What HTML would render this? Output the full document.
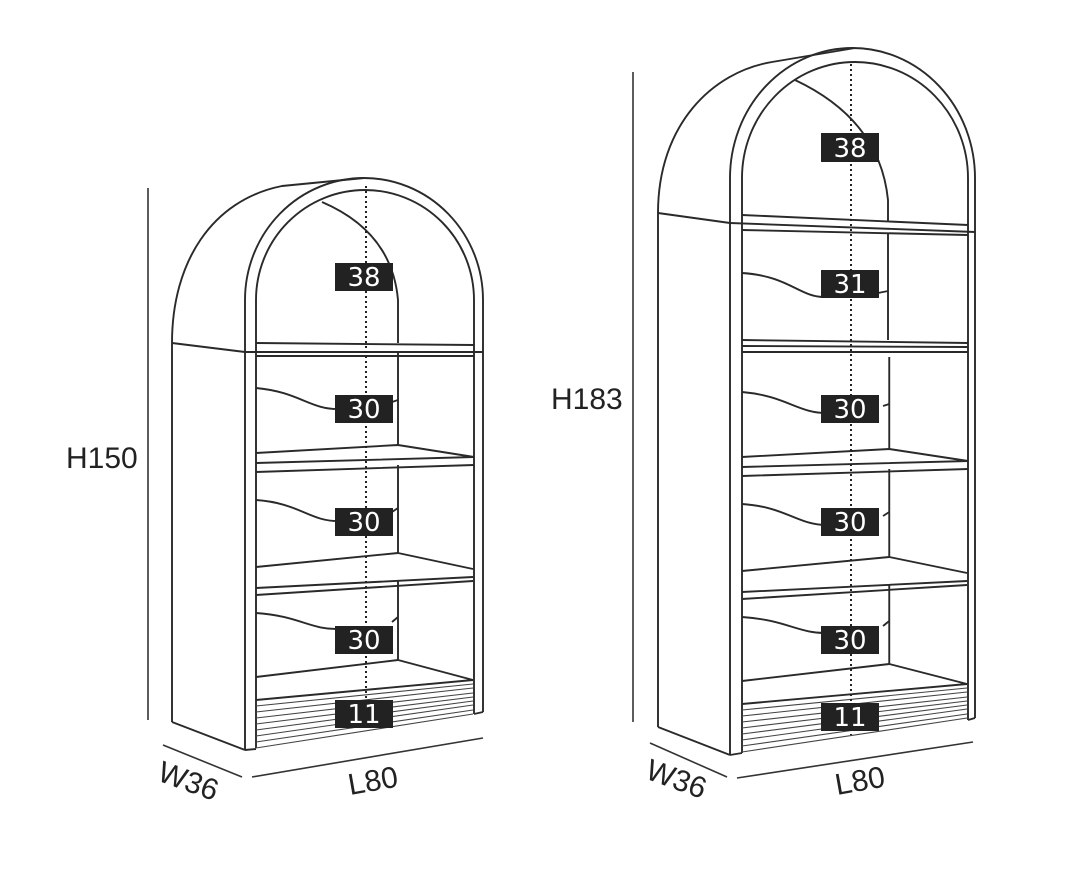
<!DOCTYPE html>
<html><head><meta charset="utf-8"><style>
html,body{margin:0;padding:0;background:#fff;}
svg{display:block;}
.l{fill:none;stroke:#2a2a2a;stroke-width:1.9;stroke-linejoin:round;vector-effect:non-scaling-stroke;}
.h{fill:none;stroke:#444;stroke-width:1.1;vector-effect:non-scaling-stroke;}
.d{fill:none;stroke:#222;stroke-width:2;stroke-dasharray:2 3;}
.dim{fill:none;stroke:#333;stroke-width:1.6;}
.lab{font-family:"DejaVu Sans","Liberation Sans",sans-serif;font-size:26px;fill:#fff;text-anchor:middle;}
.t{font-family:"Liberation Sans",sans-serif;font-size:30px;fill:#222;}
</style></head><body>
<svg width="1080" height="877" viewBox="0 0 1080 877" xmlns="http://www.w3.org/2000/svg">
<defs>
<g id="inner">
  <path class="l" d="M256,453 L398,445 L474,457 M256,463 L474,457 M256,472 L474,465"/>
  <path class="l" d="M256,567 L398,553 L473,569 M256,588 L473,577 M256,595 L473,581"/>
  <path class="l" d="M256,677 L398,660 L473,680 M256,700 L473,680"/>
  <path class="h" d="M256,706 L473,684 M256,712 L473,688 M256,718 L473,693 M256,724 L473,697 M256,730 L473,701 M256,736 L473,705 M256,742 L473,710 M256,748 L473,714"/>
  <path class="l" d="M398,353 L398,445 M398,465 L398,553 M398,581 L398,660"/>
  <path class="l" d="M256,388 C300,392 310,410 340,409 M392,402 L398,400"/>
  <path class="l" d="M256,500 C300,503 310,522 340,521 M392,512 L398,508"/>
  <path class="l" d="M256,613 C300,616 310,630 340,629 M392,622 L398,617"/>
</g>
</defs>

<path class="l" d="M172,722 L172,343 C172,262 212,200 282,186 L364,178"/>
<path class="l" d="M172,343 L245,352 M172,722 L245,750"/>
<path class="l" d="M245,750 L245,300 A119,122 0 0 1 483,300 L483,712"/>
<path class="l" d="M256,748 L256,300 A109,110 0 0 1 474,300 L474,714"/>
<path class="l" d="M245,750 L256,749 M474,714 L483,712"/>
<path class="l" d="M256,343 L474,345 M245,352 L483,352 M256,356 L474,356"/>
<path class="l" d="M322,202 Q392,232 398,300 L398,343"/>
<use href="#inner"/>
<line class="d" x1="366" y1="186" x2="366" y2="730"/>
<rect x="335" y="263" width="58" height="28" fill="#222"/><text class="lab" x="364" y="286">38</text>
<rect x="335" y="395" width="58" height="28" fill="#222"/><text class="lab" x="364" y="418">30</text>
<rect x="335" y="508" width="58" height="28" fill="#222"/><text class="lab" x="364" y="531">30</text>
<rect x="335" y="626" width="58" height="28" fill="#222"/><text class="lab" x="364" y="649">30</text>
<rect x="335" y="700" width="58" height="28" fill="#222"/><text class="lab" x="364" y="723">11</text>
<line class="dim" x1="148" y1="188" x2="148" y2="720"/>
<text class="t" x="66" y="468">H150</text>
<line class="dim" x1="163" y1="745" x2="242" y2="777"/>
<line class="dim" x1="252" y1="777" x2="483" y2="738"/>
<text class="t" transform="translate(156,780) rotate(20)">W36</text>
<text class="t" transform="translate(350,795) rotate(-10)">L80</text>

<path class="l" d="M658,727 L658,213 C658,125 712,72 772,62 L855,48"/>
<path class="l" d="M658,213 L730,223 M658,727 L730,755"/>
<path class="l" d="M730,755 L730,178 A122.5,130 0 0 1 975,178 L975,718"/>
<path class="l" d="M742,753 L742,178 A113,116 0 0 1 968,178 L968,720"/>
<path class="l" d="M730,755 L742,753 M968,720 L975,718"/>
<path class="l" d="M742,215 L968,225 M730,223 L975,232 M742,230 L968,235"/>
<path class="l" d="M795,80 Q880,120 888,200 L888,222"/>
<path class="l" d="M742,340 L968,343 M742,346 L968,347 M742,352 L968,352"/>
<path class="l" d="M888,234 L888,340 M742,273 C790,276 800,298 826,297 M878,293 L888,291"/>
<g transform="translate(742,4) scale(1.037,1) translate(-256,0)"><use href="#inner"/></g>
<line class="d" x1="851" y1="64" x2="851" y2="735"/>
<rect x="821" y="133" width="58" height="29" fill="#222"/><text class="lab" x="850" y="157">38</text>
<rect x="821" y="270" width="58" height="28" fill="#222"/><text class="lab" x="850" y="293">31</text>
<rect x="821" y="395" width="58" height="28" fill="#222"/><text class="lab" x="850" y="418">30</text>
<rect x="821" y="508" width="58" height="28" fill="#222"/><text class="lab" x="850" y="531">30</text>
<rect x="821" y="626" width="58" height="28" fill="#222"/><text class="lab" x="850" y="649">30</text>
<rect x="821" y="703" width="58" height="28" fill="#222"/><text class="lab" x="850" y="726">11</text>
<line class="dim" x1="633" y1="72" x2="633" y2="722"/>
<text class="t" x="551" y="409">H183</text>
<line class="dim" x1="650" y1="743" x2="727" y2="777"/>
<line class="dim" x1="737" y1="778" x2="973" y2="742"/>
<text class="t" transform="translate(644,778) rotate(20)">W36</text>
<text class="t" transform="translate(837,795) rotate(-10)">L80</text>
</svg>
</body></html>
